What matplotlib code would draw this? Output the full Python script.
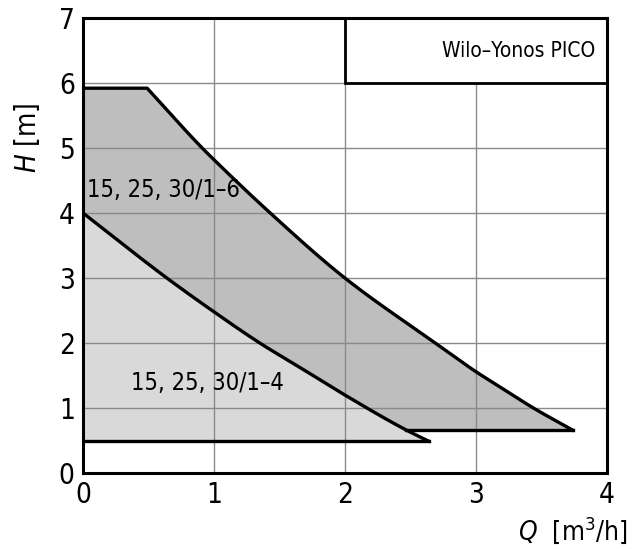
import matplotlib
matplotlib.use("Agg")
import matplotlib.pyplot as plt
import numpy as np
from matplotlib.patches import Rectangle

plt.rcParams['font.family'] = ['DejaVu Sans']
plt.rcParams['font.stretch'] = 'condensed'

# Data
upper_q = [0.0, 0.49, 0.91, 1.0, 1.43, 2.0, 2.69, 3.0, 3.18, 3.44, 3.74]
upper_h = [5.92, 5.92, 5.0, 4.82, 4.0, 3.0, 2.0, 1.56, 1.33, 1.0, 0.66]
lower_q = [0.0, 0.64, 1.0, 1.35, 1.66, 2.0, 2.47, 2.64]
lower_h = [4.0, 3.0, 2.48, 2.0, 1.62, 1.2, 0.66, 0.49]
min_h_small = 0.5
min_h_big = 0.66
label_big = "15, 25, 30/1–6"
label_small = "15, 25, 30/1–4"
title_box = "Wilo–Yonos PICO"
xticks = [0, 1, 2, 3, 4]
yticks = [0, 1, 2, 3, 4, 5, 6, 7]


def pchip(xk, yk, xs):
    xk = np.asarray(xk, float); yk = np.asarray(yk, float)
    h = np.diff(xk); d = np.diff(yk) / h
    m = np.zeros_like(xk)
    for i in range(1, len(xk) - 1):
        if d[i - 1] * d[i] > 0:
            w1 = 2 * h[i] + h[i - 1]; w2 = h[i] + 2 * h[i - 1]
            m[i] = (w1 + w2) / (w1 / d[i - 1] + w2 / d[i])
    m[0] = d[0]; m[-1] = d[-1]
    idx = np.clip(np.searchsorted(xk, xs) - 1, 0, len(h) - 1)
    t = (xs - xk[idx]) / h[idx]
    h00 = 2 * t**3 - 3 * t**2 + 1; h10 = t**3 - 2 * t**2 + t
    h01 = -2 * t**3 + 3 * t**2; h11 = t**3 - t**2
    return h00 * yk[idx] + h10 * h[idx] * m[idx] + h01 * yk[idx + 1] + h11 * h[idx] * m[idx + 1]


fig = plt.figure(figsize=(6.4, 5.49), dpi=100)
ax = fig.add_axes([0.1297, 0.1384, 0.8183, 0.8288])
ax.set_xlim(0, 4)
ax.set_ylim(0, 7)

# smooth curves through read points
qu = np.concatenate([[0.0], np.linspace(upper_q[1], upper_q[-1], 400)])
hu = np.concatenate([[upper_h[0]], pchip(upper_q[1:], upper_h[1:], qu[1:])])
ql = np.linspace(0, lower_q[-1], 400)
hl = pchip(lower_q, lower_h, ql)

# dark region
qq = np.linspace(0, upper_q[-1], 600)
up = np.interp(qq, qu, hu)
lo = np.where(qq > lower_q[-1], min_h_big, np.maximum(np.interp(qq, ql, hl), min_h_big))
ax.fill_between(qq, lo, up, color='#bebebe', lw=0, zorder=1)

# light region
ax.fill_between(ql, min_h_small, hl, color='#d9d9d9', lw=0, zorder=1)

# grid
for x in [1, 2, 3]:
    ax.axvline(x, color='#8a8a8a', lw=1.0, zorder=2)
for y in [1, 2, 3, 4, 5, 6]:
    ax.axhline(y, color='#8a8a8a', lw=1.0, zorder=2)

# curves
lw = 2.4
ax.plot(qu, hu, color='black', lw=lw, zorder=4)
ax.plot(ql, hl, color='black', lw=lw, zorder=4)
ax.plot([0, lower_q[-1]], [min_h_small, min_h_small], color='black', lw=lw, zorder=4)
x_meet = np.interp(-min_h_big, -hl, ql)
ax.plot([x_meet, upper_q[-1]], [min_h_big, min_h_big], color='black', lw=lw, zorder=4)

# box
ax.add_patch(Rectangle((2, 6), 2, 1, facecolor='white', edgecolor='black', lw=2.0, zorder=5))
ax.text(3.91, 6.5, title_box, ha='right', va='center', fontsize=15, zorder=6)

ax.text(0.03, 4.35, label_big, ha='left', va='center', fontsize=17, zorder=6)
ax.text(0.37, 1.38, label_small, ha='left', va='center', fontsize=17, zorder=6)

for s in ax.spines.values():
    s.set_linewidth(2.2)
    s.set_zorder(7)
ax.set_xticks(xticks)
ax.set_yticks(yticks)
ax.set_xticklabels([str(t) for t in xticks], fontsize=20)
ax.set_yticklabels([str(t) for t in yticks], fontsize=20)
ax.tick_params(length=0, pad=6)

ax.set_ylabel(r"$H$ [m]", fontsize=20)
ax.yaxis.set_label_coords(-0.078, 0.736)
fig.text(0.981, 0.016, r"$Q$  [m$^3$/h]", ha='right', va='baseline', fontsize=19)

fig.savefig("out.png", dpi=100)
